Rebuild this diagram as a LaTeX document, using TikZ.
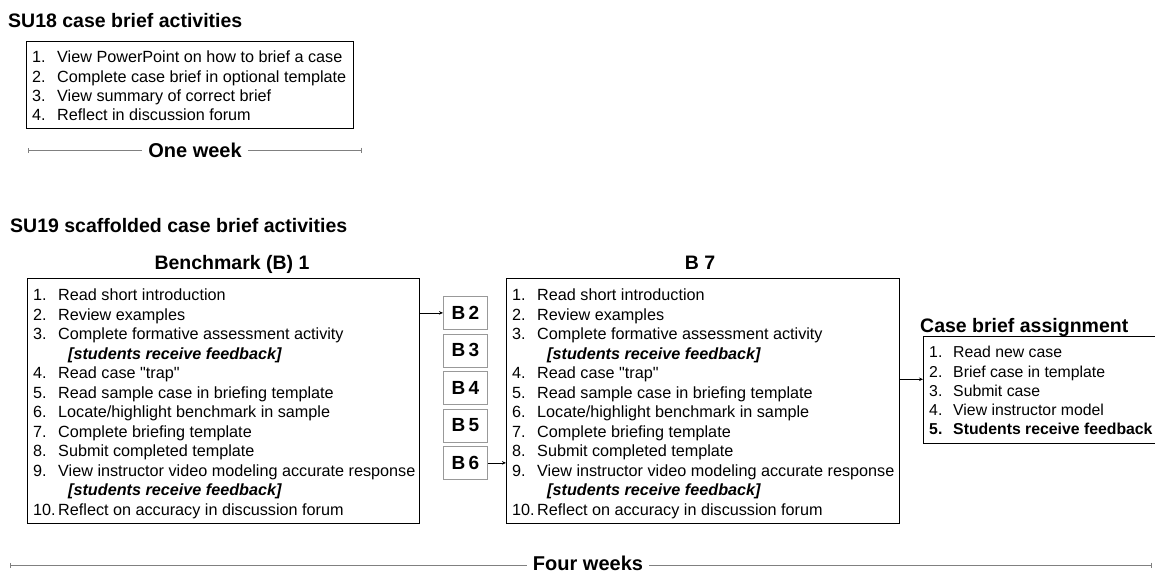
\documentclass[tikz,border=0pt]{standalone}
\usepackage{fontspec}
\setmainfont{Liberation Sans}[Ligatures=TeXOff]
\usetikzlibrary{arrows.meta,calc}
\begin{document}
\begin{tikzpicture}[x=1pt,y=-1pt,
  title/.style={font=\fontsize{19.5}{22}\selectfont\bfseries, inner sep=0pt, anchor=base west},
  coltitle/.style={font=\fontsize{19.5}{22}\selectfont\bfseries, inner sep=0pt, anchor=base},
  listbox/.style={draw=black, line width=1.2pt, anchor=north west, inner sep=0pt, fill=none},
  bbox/.style={draw=black!40, line width=0.8pt, anchor=north west, inner sep=0pt,
     minimum width=44pt, minimum height=33pt, font=\fontsize{19}{22}\selectfont\bfseries},
  num/.style={font=\fontsize{16.2}{19}\selectfont, inner sep=0pt, anchor=base west},
  itemtext/.style={font=\fontsize{16.2}{19}\selectfont, inner sep=0pt, anchor=base west},
  fb/.style={font=\fontsize{16.2}{19}\selectfont\bfseries\itshape, inner sep=0pt, anchor=base west},
  cbtext/.style={font=\fontsize{15.8}{19}\selectfont, inner sep=0pt, anchor=base west},
  week/.style={font=\fontsize{20}{24}\selectfont\bfseries, inner sep=6pt},
  weekline/.style={draw=black!50, line width=0.6pt},
  conn/.style={draw=black, line width=0.8pt, -{Stealth[length=4pt,width=3.5pt]}}
]
\useasboundingbox (0,0) rectangle (1155,573);

% ---------- SU18 ----------
\node[title] (t18) at (8,27) {SU18 case brief activities};
\node[listbox, minimum width=327pt, minimum height=87pt] (S18) at (26,41) {};
\foreach \n/\t [count=\i from 0] in {{1.}/{View PowerPoint on how to brief a case},
    {2.}/{Complete case brief in optional template},
    {3.}/{View summary of correct brief},
    {4.}/{Reflect in discussion forum}}{
  \node[num] (s18n\i) at ($(S18.north west)+(6,21.7+19.3*\i)$) {\n};
  \node[itemtext] (s18t\i) at ($(S18.north west)+(31,21.7+19.3*\i)$) {\t};
}
\node[week] (ow) at (195,150) {One week};
\coordinate (owL) at (28,150);
\coordinate (owR) at (362,150);
\draw[weekline, {Bar[width=5pt]}-] (owL) -- (ow.west);
\draw[weekline, -{Bar[width=5pt]}] (ow.east) -- (owR);

% ---------- SU19 ----------
\node[title] (t19) at (10,232) {SU19 scaffolded case brief activities};
\node[coltitle] (tb1) at (232,269) {Benchmark (B) 1};
\node[coltitle] (tb7) at (700,269) {B 7};
\node[title] (tcb) at (920,332) {Case brief assignment};

\node[listbox, minimum width=392pt, minimum height=245pt] (B1) at (27,278) {};
\node[listbox, minimum width=393pt, minimum height=245pt] (B7) at (506,278) {};
\node[listbox, minimum width=260pt, minimum height=107pt] (CB) at (923,336) {};

\foreach \bx/\pre in {B1/a, B7/b}{
  \foreach \n/\t [count=\i from 0] in {{1.}/{Read short introduction},
      {2.}/{Review examples},
      {3.}/{Complete formative assessment activity},
      {}/{},
      {4.}/{Read case "trap"},
      {5.}/{Read sample case in briefing template},
      {6.}/{Locate/highlight benchmark in sample},
      {7.}/{Complete briefing template},
      {8.}/{Submit completed template},
      {9.}/{View instructor video modeling accurate response},
      {}/{},
      {10.}/{Reflect on accuracy in discussion forum}}{
    \node[num] (\pre n\i) at ($(\bx.north west)+(6,22.7+19.5*\i)$) {\n};
    \node[itemtext] (\pre t\i) at ($(\bx.north west)+(31,22.7+19.5*\i)$) {\t};
  }
  \node[fb] (\pre fa) at ($(\bx.north west)+(41,22.7+19.5*3)$) {[students receive feedback]};
  \node[fb] (\pre fb) at ($(\bx.north west)+(41,22.7+19.5*10)$) {[students receive feedback]};
}

\foreach \n/\t [count=\i from 0] in {{1.}/{Read new case},
    {2.}/{Brief case in template},
    {3.}/{Submit case},
    {4.}/{View instructor model}}{
  \node[cbtext] (cn\i) at ($(CB.north west)+(6,21.7+19.3*\i)$) {\n};
  \node[cbtext] (ct\i) at ($(CB.north west)+(30,21.7+19.3*\i)$) {\t};
}
\node[cbtext, font=\fontsize{15.8}{19}\selectfont\bfseries] (cn4) at ($(CB.north west)+(6,21.7+19.3*4)$) {5.};
\node[cbtext, font=\fontsize{15.8}{19}\selectfont\bfseries] (ct4) at ($(CB.north west)+(30,21.7+19.3*4)$) {Students receive feedback};

% B2..B6
\foreach \k [count=\i from 0] in {2,...,6}{
  \node[bbox] (Bb\k) at (443,296+37.5*\i) {B\,\k};
}

% connectors
\draw[conn] (B1.east |- Bb2.west) -- (Bb2.west);
\draw[conn] (Bb6.east) -- (Bb6.east -| B7.west);
\coordinate (cbin) at ($(CB.north west)!0.4!(CB.south west)$);
\draw[conn] (B7.east |- cbin) -- (cbin);

% four weeks
\node[week] (fw) at (588,563.5) {Four weeks};
\coordinate (fwL) at (10,565);
\coordinate (fwR) at (1152,565);
\draw[weekline, {Bar[width=5pt]}-] (fwL) -- (fwL -| fw.west);
\draw[weekline, -{Bar[width=5pt]}] (fwR -| fw.east) -- (fwR);
\end{tikzpicture}
\end{document}
